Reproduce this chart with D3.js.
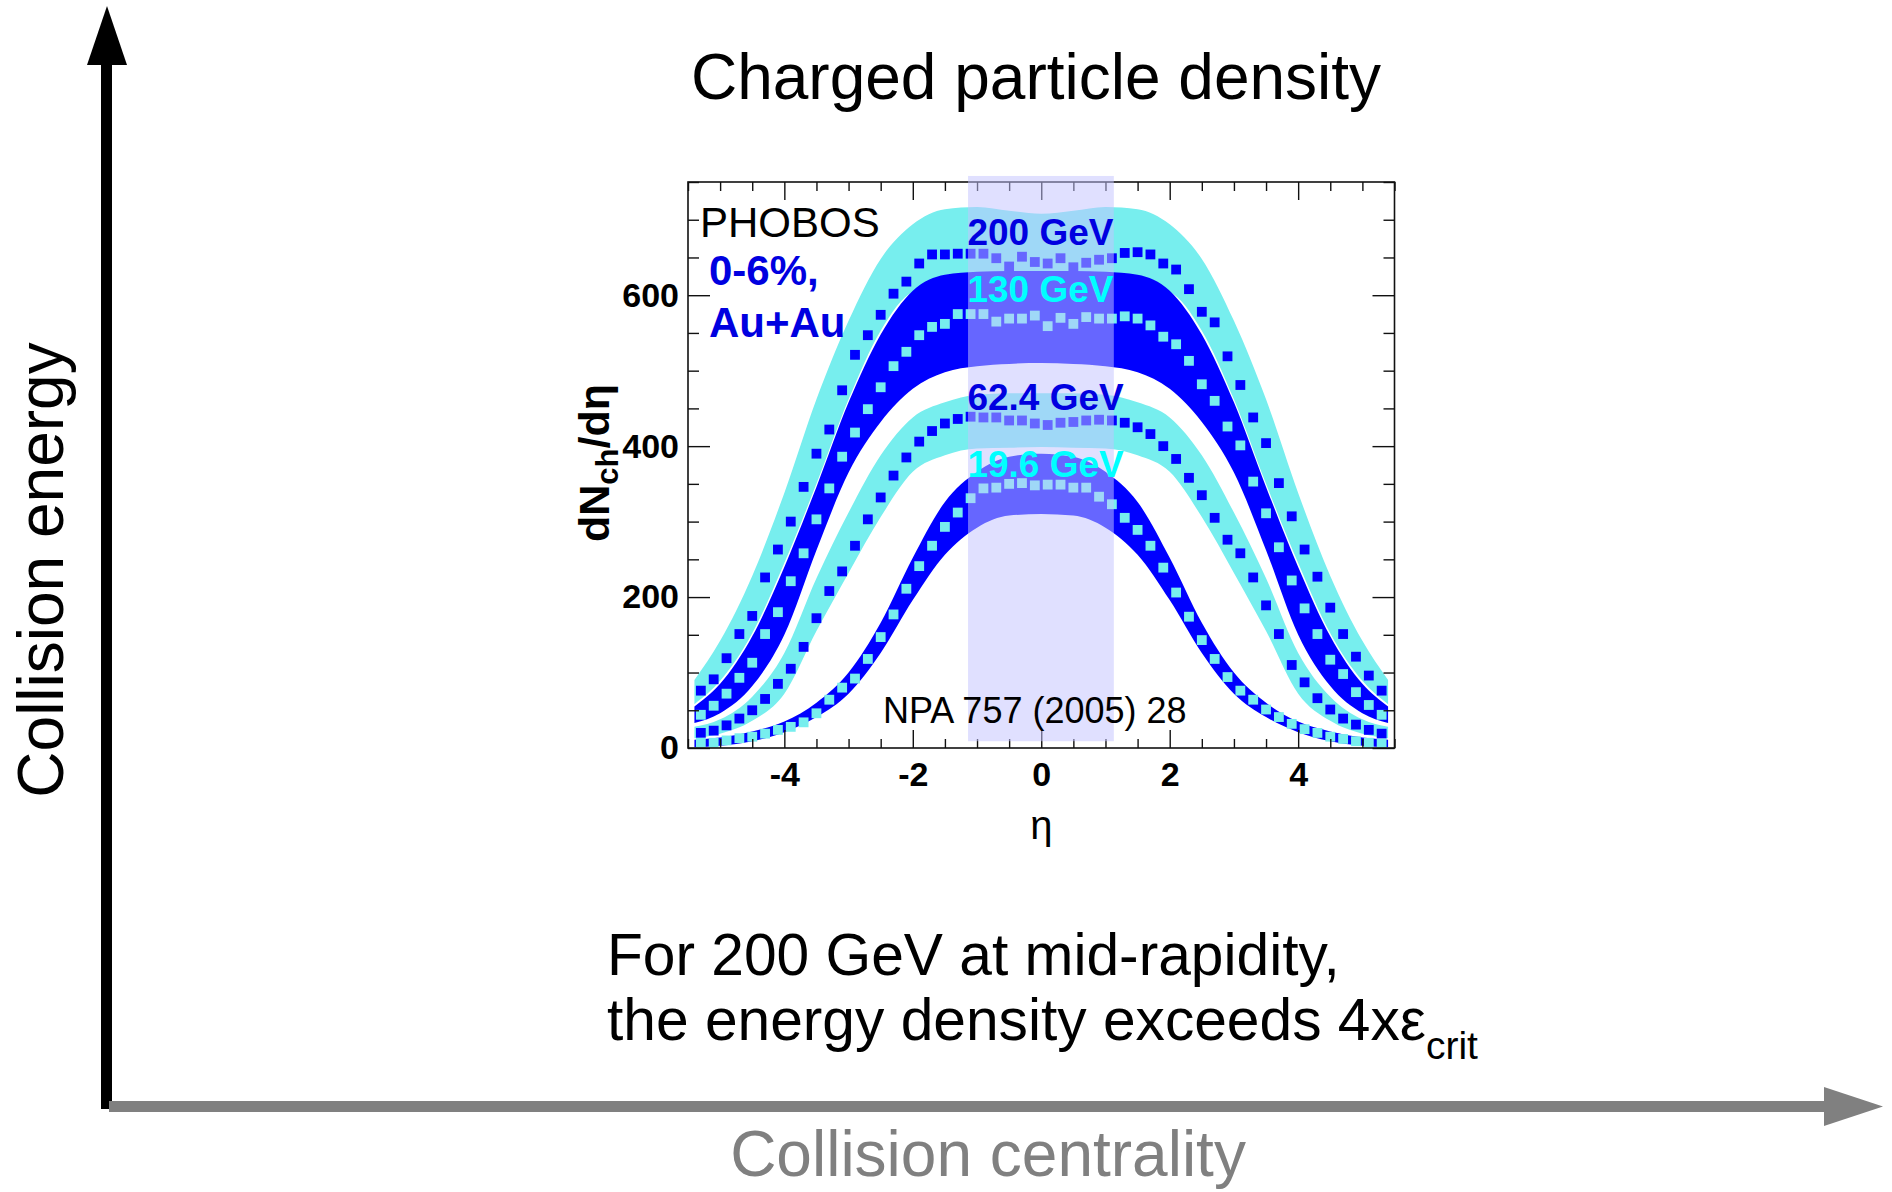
<!DOCTYPE html>
<html><head><meta charset="utf-8">
<script src="https://cdn.jsdelivr.net/npm/d3@7/dist/d3.min.js"></script>
<style>
body{margin:0;background:#fff}
svg{display:block}
text{font-family:"Liberation Sans",Arial,Helvetica,sans-serif}
</style>
</head><body>
<svg id="c" width="1892" height="1192"></svg>
<script>
// ---------------- data ----------------
const etaPoints = [-5.3,-5.1,-4.9,-4.7,-4.5,-4.3,-4.1,-3.9,-3.7,-3.5,-3.3,-3.1,-2.9,-2.7,-2.5,-2.3,-2.1,-1.9,-1.7,-1.5,-1.3,-1.1,-0.9,-0.7,-0.5,-0.3,-0.1,0.1,0.3,0.5,0.7,0.9,1.1,1.3,1.5,1.7,1.9,2.1,2.3,2.5,2.7,2.9,3.1,3.3,3.5,3.7,3.9,4.1,4.3,4.5,4.7,4.9,5.1,5.3];
const dn200 = [76,91,119,151,175,226,263,300,346,390,422,474,521,547,574,602,618,642,654,654,655,655,655,649,638,651,644,642,649,637,643,647,649,656,657,654,642,634,608,578,564,519,481,438,404,351,307,263,227,186,151,121,96,76];
const dn130 = [44,56,72,93,113,151,180,221,258,303,344,386,418,449,478,506,525,547,558,562,575,575,575,565,569,569,573,559,570,562,571,569,569,572,569,560,545,535,513,482,460,426,401,353,311,266,222,185,151,117,98,74,57,44];
const dn62 = [20,23,30,39,50,65,85,105,134,172,208,234,268,303,332,361,385,406,420,430,436,439,438,438,434,434,430,428,431,432,434,435,434,431,425,416,400,383,358,335,305,276,258,226,189,151,110,87,66,51,39,31,24,19];
const dn19 = [7,7,10,13,15,19,24,28,34,46,64,80,92,118,147,177,211,241,268,293,312,331,344,345,350,351,348,349,349,345,345,333,323,305,289,268,239,206,174,143,118,94,76,64,51,41,32,25,20,15,12,9,7,6];

// systematic bands (|eta| grid, symmetric)
const bandEta = [0,0.5,1,1.5,2,2.5,3,3.5,4,4.5,5,5.4];
const band200Hi = [708,712,717,714,694,648,566,462,338,228,142,90];
const band200Lo = [600,602,606,612,604,553,462,350,245,152,89,58];
const band130Hi = [632,632,631,627,606,548,458,346,240,148,85,55];
const band130Lo = [510,509,506,498,476,432,365,262,150,82,46,33];
const band62Hi  = [470,470,468,458,438,388,312,225,126,68,38,28];
const band62Lo  = [399,398,397,388,366,306,232,155,72,36,19,13];
const band19Hi  = [390,386,366,326,252,166,100,60,35,22,14,11];
const band19Lo  = [310,308,292,256,196,126,72,41,21,9,3,1];

const seriesLabels = ["200 GeV","130 GeV","62.4 GeV","19.6 GeV"];
const labelValues = [666,591,448,359];
const midRapidityEta = [-1.14,1.13];
const midRapidityValue = [9,758];

const xTicks = [-4,-2,0,2,4];
const xMinorTicks = [-5.5,-5,-4.5,-3.5,-3,-2.5,-1.5,-1,-0.5,0.5,1,1.5,2.5,3,3.5,4.5,5,5.5];
const yTicks = [0,200,400,600];
const yMinorTicks = [50,100,150,250,300,350,450,500,550,650,700,750];

// ---------------- drawing ----------------
const BLUE = "#0000ff", CYAN = "#77eeee", TXTBLUE = "#0000e0", TXTCYAN = "#00ffff", GRAY = "#808080";
const svg = d3.select("#c");
svg.append("rect").attr("width",1892).attr("height",1192).attr("fill","#fff");

// Big arrows
svg.append("rect").attr("x",101).attr("y",60).attr("width",11).attr("height",1049).attr("fill","#000");
svg.append("polygon").attr("points","87,65 127,65 107,6").attr("fill","#000");
svg.append("rect").attr("x",109).attr("y",1101).attr("width",1720).attr("height",11).attr("fill",GRAY);
svg.append("polygon").attr("points","1824,1087 1824,1126 1883,1106.5").attr("fill",GRAY);

svg.append("text").attr("transform","translate(63,570) rotate(-90)").attr("text-anchor","middle")
  .attr("font-size",64).attr("fill","#000").text("Collision energy");
svg.append("text").attr("x",988).attr("y",1176).attr("text-anchor","middle")
  .attr("font-size",64).attr("fill",GRAY).text("Collision centrality");
svg.append("text").attr("x",1036).attr("y",99).attr("text-anchor","middle")
  .attr("font-size",64).attr("fill","#000").text("Charged particle density");

svg.append("text").attr("x",607).attr("y",975).attr("font-size",58.7).attr("fill","#000")
  .text("For 200 GeV at mid-rapidity,");
const t2 = svg.append("text").attr("x",607).attr("y",1040).attr("font-size",58.7).attr("fill","#000");
t2.append("tspan").text("the energy density exceeds 4x\u03b5");
t2.append("tspan").attr("dy",19).attr("font-size",39).text("crit");

// ---------------- plot ----------------
const x = d3.scaleLinear().domain([-5.5,5.5]).range([688,1394.5]);
const y = d3.scaleLinear().domain([0,750]).range([748,182]);
const g = svg.append("g");

function bandData(lo, hi){
  const out = [];
  for(let i=bandEta.length-1;i>0;i--) out.push({e:-bandEta[i], lo:lo[i], hi:hi[i]});
  for(let i=0;i<bandEta.length;i++) out.push({e:bandEta[i], lo:lo[i], hi:hi[i]});
  return out;
}
const area = d3.area().x(d=>x(d.e)).y0(d=>y(d.lo)).y1(d=>y(d.hi)).curve(d3.curveMonotoneX);
const bands = [[band200Lo,band200Hi,CYAN],[band130Lo,band130Hi,BLUE],[band62Lo,band62Hi,CYAN],[band19Lo,band19Hi,BLUE]];
bands.forEach(b=>{
  g.append("path").attr("d",area(bandData(b[0],b[1]))).attr("fill",b[2]);
});

const series = [[dn200,BLUE],[dn130,CYAN],[dn62,BLUE],[dn19,CYAN]];
const S = 9.8;
series.forEach(s=>{
  g.append("g").selectAll("rect").data(etaPoints.map((e,i)=>({e, v:s[0][i]}))).join("rect")
    .attr("x",d=>x(d.e)-S/2).attr("y",d=>y(d.v)-S/2).attr("width",S).attr("height",S)
    .attr("fill",s[1]);
});

// Frame & ticks
const axG = g.append("g").attr("font-family",'"Liberation Sans",Arial,sans-serif');
function styleAxis(sel){ sel.select(".domain").remove(); sel.selectAll("line").attr("stroke","#111").attr("stroke-width",1.4); }
// left
axG.append("g").attr("transform",`translate(${x(-5.5)},0)`).call(d3.axisLeft(y).tickValues(yMinorTicks).tickSize(-11).tickFormat("")).call(styleAxis);
axG.append("g").attr("transform",`translate(${x(-5.5)},0)`).call(d3.axisLeft(y).tickValues(yTicks).tickSize(-22).tickPadding(9).tickFormat(d3.format("d"))).call(styleAxis)
  .selectAll("text").attr("font-size",34).attr("font-weight","bold").attr("fill","#000");
// right
axG.append("g").attr("transform",`translate(${x(5.5)},0)`).call(d3.axisRight(y).tickValues(yMinorTicks).tickSize(-11).tickFormat("")).call(styleAxis);
axG.append("g").attr("transform",`translate(${x(5.5)},0)`).call(d3.axisRight(y).tickValues(yTicks).tickSize(-22).tickFormat("")).call(styleAxis);
// bottom
axG.append("g").attr("transform",`translate(0,${y(0)})`).call(d3.axisBottom(x).tickValues(xMinorTicks).tickSize(-9).tickFormat("")).call(styleAxis);
axG.append("g").attr("transform",`translate(0,${y(0)})`).call(d3.axisBottom(x).tickValues(xTicks).tickSize(-18).tickPadding(14).tickFormat(d3.format("d"))).call(styleAxis)
  .selectAll("text").attr("font-size",34).attr("font-weight","bold").attr("fill","#000").text(d=>d<0?"-"+Math.abs(d):d);
// top
axG.append("g").attr("transform",`translate(0,${y(750)})`).call(d3.axisTop(x).tickValues(xMinorTicks).tickSize(-9).tickFormat("")).call(styleAxis);
axG.append("g").attr("transform",`translate(0,${y(750)})`).call(d3.axisTop(x).tickValues(xTicks).tickSize(-18).tickFormat("")).call(styleAxis);
g.append("rect").attr("x",x(-5.5)).attr("y",y(750)).attr("width",x(5.5)-x(-5.5)).attr("height",y(0)-y(750))
  .attr("fill","none").attr("stroke","#111").attr("stroke-width",1.6);

// axis titles
const yt = g.append("text").attr("transform",`translate(609,463) rotate(-90)`).attr("text-anchor","middle")
  .attr("font-size",43).attr("font-weight","bold").attr("fill","#000");
yt.append("tspan").text("dN");
yt.append("tspan").attr("dy",9).attr("font-size",31).text("ch");
yt.append("tspan").attr("dy",-9).text("/d\u03b7");
g.append("text").attr("x",x(0)).attr("y",839).attr("text-anchor","middle").attr("font-size",40).attr("fill","#000").text("\u03b7");

// mid-rapidity highlight
g.append("rect").attr("x",x(midRapidityEta[0])).attr("y",y(midRapidityValue[1]))
  .attr("width",x(midRapidityEta[1])-x(midRapidityEta[0])).attr("height",y(midRapidityValue[0])-y(midRapidityValue[1]))
  .attr("fill","rgb(196,196,255)").attr("fill-opacity",0.52);

// annotations
g.append("text").attr("x",700).attr("y",237).attr("font-size",42).attr("fill","#000").text("PHOBOS");
g.append("text").attr("x",709).attr("y",285).attr("font-size",42).attr("font-weight","bold").attr("fill",TXTBLUE).text("0-6%,");
g.append("text").attr("x",709).attr("y",337).attr("font-size",42).attr("font-weight","bold").attr("fill",TXTBLUE).text("Au+Au");
const labelColors = [TXTBLUE,TXTCYAN,TXTBLUE,TXTCYAN];
seriesLabels.forEach((t,i)=>{
  g.append("text").attr("x",x(-1.15)).attr("y",y(labelValues[i])).attr("font-size",37).attr("font-weight","bold")
    .attr("fill",labelColors[i]).text(t);
});
g.append("text").attr("x",883).attr("y",723).attr("font-size",36).attr("fill","#000").text("NPA 757 (2005) 28");
</script>
</body></html>
